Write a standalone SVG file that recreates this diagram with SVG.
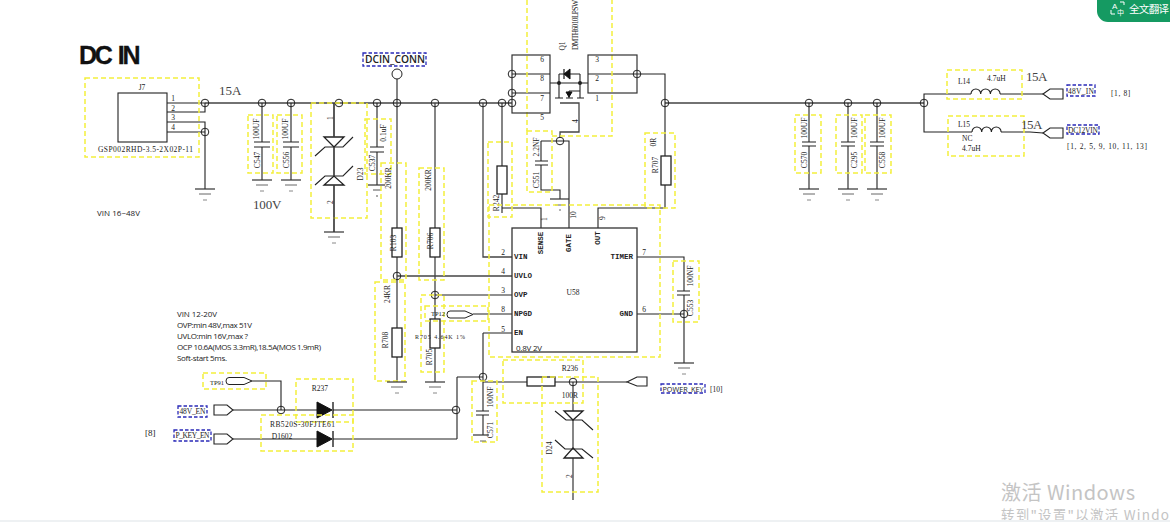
<svg xmlns="http://www.w3.org/2000/svg" width="1170" height="522" viewBox="0 0 1170 522">
<style>
text{font-family:"Liberation Serif",serif;fill:#222;dominant-baseline:central;font-size:7.500px}
.m{text-anchor:middle}
.e{text-anchor:end}
.b{font-family:"Liberation Mono",monospace;font-size:7.500px;font-weight:bold}
.s{font-size:13px;fill:#444;letter-spacing:.6px}
.n{font-family:"Open Sans",sans-serif;font-size:8px;fill:#222}
.w{fill:none;stroke:#222;stroke-width:1.1}
.g{fill:none;stroke:#444;stroke-width:1.3}
.j{fill:none;stroke:#222;stroke-width:1}
.y{fill:none;stroke:#f4ef3c;stroke-width:1.5;stroke-dasharray:5 3}
.u{fill:none;stroke:#2a2ab8;stroke-width:1.3;stroke-dasharray:3.5 2}
.r{fill:#fff;stroke:#222;stroke-width:1.3}
.k{fill:#111;stroke:#111}
.l{font-family:"Open Sans",sans-serif;font-size:8px}
</style>
<defs>
<g id="gnd"><path d="M-10 0H10" stroke="#333" stroke-width="1.2"/><path d="M-6 5H6" stroke="#666" stroke-width="1"/><path d="M-2 11H2" stroke="#888" stroke-width="1"/></g>
<circle id="jn" r="3.8" class="j"/>
<path id="con" d="M0 0L7 -5H20V5H7Z" fill="#fff" stroke="#222" stroke-width="1.1"/>
<path id="conr" d="M0 -5H13L19 0L13 5H0Z" fill="#fff" stroke="#222" stroke-width="1.1"/>
<path id="tp" d="M3 -3.5H18L26 0L18 3.5H3A3 3.5 0 0 1 3 -3.5Z" fill="#fff" stroke="#222" stroke-width="1"/>
</defs>

<g id="connectors">
<path class="g" d="M205 103H512M665 103H924"/>
<path class="w" d="M167 103H205M167 112H205V103M167 122H205V189M167 132H205"/>
<path class="w" d="M262 103V142M262 147V180M291 103V142M291 147V180M334 103V232M377 103V147M377 152V185"/>
<path class="g" d="M397 79V382M435 103V382M483 103V257H512"/>
<path class="w" d="M502 103V213M502 208H541V228"/>
<path class="w" d="M512 74H550M512 93H550M550 83H588M588 74H665V156M665 185V208H598V228"/>
<path class="w" d="M559 74H564M570 74H580M559 74V98M580 74V98M569 91V98M569 91H580"/>
<path class="g" d="M560 103H579V132H560V138"/>
<path class="w" d="M541 141H569V228M541 141V161M541 165V190H560V199"/>
<path class="g" d="M397 276H512"/>
<path class="w" d="M435 295H512M473 314H512M483 333H512M483 333V411M483 415V435"/>
<path class="w" d="M637 257H684V291M684 295V363M637 314H684"/>
<path class="w" d="M483 382H627M457 377H483M457 377V439M233 410H317M333 410H457M233 439H317M333 439H457M252 381H281V410"/>
<path class="w" d="M573 382V500"/>
<path class="w" d="M809 103V142M809 146V189M848 103V142M848 146V189M877 103V142M877 146V189"/>
<path class="w" d="M924 103V94H971M1000 94H1043M924 103V132H972M1001 132H1030L1043 133"/>
<use href="#jn" x="205" y="103"/><use href="#jn" x="205" y="132"/><use href="#jn" x="262" y="103"/><use href="#jn" x="291" y="103"/><use href="#jn" x="339" y="103"/><use href="#jn" x="377" y="103"/><use href="#jn" x="397" y="103"/><use href="#jn" x="435" y="103"/><use href="#jn" x="483" y="103"/><use href="#jn" x="502" y="103"/><use href="#jn" x="512" y="103"/><use href="#jn" x="512" y="74"/><use href="#jn" x="512" y="93"/><use href="#jn" x="637" y="74"/><use href="#jn" x="665" y="103"/><use href="#jn" x="560" y="141"/><use href="#jn" x="397" y="276"/><use href="#jn" x="435" y="295"/><use href="#jn" x="684" y="314"/><use href="#jn" x="483" y="377"/><use href="#jn" x="573" y="382"/><use href="#jn" x="456" y="410"/><use href="#jn" x="281" y="410"/><use href="#jn" x="809" y="103"/><use href="#jn" x="848" y="103"/><use href="#jn" x="877" y="103"/><use href="#jn" x="924" y="103"/>
</g>

<text x="79" y="55" style="font-family:'Liberation Sans',sans-serif;font-weight:bold;font-size:25px;fill:#111;stroke:#111;stroke-width:.3;letter-spacing:-2.400px;word-spacing:3px">DC IN</text>
<text x="219" y="90" class="s" textLength="23">15A</text>
<text x="253" y="204" class="s" textLength="29">100V</text>
<text x="97" y="212" class="n" textLength="43">VIN 16~48V</text>
<g id="notes">
<text x="177" y="313" class="n" textLength="40">VIN 12-20V</text>
<text x="177" y="324" class="n" textLength="75">OVP:min 48V,max 51V</text>
<text x="177" y="335" class="n" textLength="71">UVLO:min 16V,max ?</text>
<text x="177" y="346" class="n" textLength="144">OCP 10.6A(MOS 3.3mR),18.5A(MOS 1.9mR)</text>
<text x="177" y="357" class="n" textLength="50">Soft-start 5ms.</text>
</g>

<g id="J7">
<rect class="y" x="85" y="78" width="114" height="79"/>
<rect x="118" y="93" width="49" height="49" fill="none" stroke="#222" stroke-width="1.1"/>
<text x="142" y="87" class="m">J7</text>
<text x="98" y="149" textLength="95">GSP002RHD-3.5-2X02P-11</text>
<text x="173" y="98" class="m">1</text><text x="173" y="108" class="m">2</text><text x="173" y="117" class="m">3</text><text x="173" y="127" class="m">4</text>
<use href="#gnd" x="205" y="189"/>
</g>

<g id="C547">
<rect class="y" x="248" y="115" width="25" height="58"/>
<path class="w" d="M254 142H270M254 147H270"/>
<use href="#gnd" x="262" y="180"/>
<text transform="translate(256 129) rotate(-90)" class="m">100UF</text>
<text transform="translate(257 160) rotate(-90)" class="m">C547</text>
</g>
<g id="C556">
<rect class="y" x="277" y="115" width="25" height="58"/>
<path class="w" d="M283 142H299M283 147H299"/>
<use href="#gnd" x="291" y="180"/>
<text transform="translate(285 129) rotate(-90)" class="m">100UF</text>
<text transform="translate(286 160) rotate(-90)" class="m">C556</text>
</g>
<g id="D23">
<rect class="y" x="311" y="103" width="56" height="115"/>
<path class="r" d="M324 137H344L334 147Z"/>
<path class="w" d="M315 156L325 147H343L353 137"/>
<path class="r" d="M324 185H344L334 176Z"/>
<path class="w" d="M315 185L325 176H343L353 166"/>
<path class="g" d="M334 103V137M334 147V176M334 185V232"/>
<use href="#gnd" x="334" y="232"/>
<text transform="translate(330 118) rotate(-90)" class="m">1</text>
<text transform="translate(330 202) rotate(-90)" class="m">2</text>
<text transform="translate(360 174) rotate(-90)" class="m">D23</text>
</g>
<g id="C537">
<rect class="y" x="365" y="119" width="26" height="55"/>
<path class="w" d="M370 147H384M370 152H384"/>
<path d="M368 185H385" stroke="#333" stroke-width="1.2"/><path d="M373 190H381M376 196H378" stroke="#555"/>
<text transform="translate(383 133) rotate(-90)" class="m">0.1uF</text>
<text transform="translate(372 163) rotate(-90)" class="m">C537</text>
</g>
<g id="DCIN_CONN">
<rect class="u" x="363" y="53" width="63" height="13"/>
<text x="365" y="59" class="l" style="font-size:10.500px;font-weight:600" textLength="60" lengthAdjust="spacingAndGlyphs">DCIN_CONN</text>
<circle cx="397" cy="74" r="5" class="j" fill="#fff"/>
</g>
<g id="R703">
<rect class="y" x="381" y="163" width="25" height="117"/>
<rect class="r" x="392" y="228" width="10" height="29"/>
<text transform="translate(388 178) rotate(-90)" class="m">200KR</text>
<text transform="translate(393 243) rotate(-90)" class="m">R103</text>
</g>
<g id="R706">
<rect class="y" x="419" y="168" width="25" height="112"/>
<rect class="r" x="430" y="228" width="10" height="29"/>
<text transform="translate(428 180) rotate(-90)" class="m">200KR</text>
<text transform="translate(430 241) rotate(-90)" class="m">R706</text>
</g>
<g id="R708">
<rect class="y" x="375" y="282" width="30" height="99"/>
<rect class="r" x="392" y="328" width="10" height="29"/>
<use href="#gnd" x="397" y="382"/>
<text transform="translate(387 294) rotate(-90)" class="m">24KR</text>
<text transform="translate(385 340) rotate(-90)" class="m">R708</text>
</g>
<g id="R705">
<rect class="y" x="421" y="295" width="23" height="77"/>
<rect class="r" x="430" y="319" width="10" height="29"/>
<use href="#gnd" x="435" y="382"/>
<text x="415" y="337" style="font-size:6px" textLength="50">R705 4.64K 1%</text>
<text transform="translate(429 357) rotate(-90)" class="m">R705</text>
</g>
<g id="TP12">
<rect class="y" x="425" y="306" width="63" height="15"/>
<use href="#tp" x="447" y="314.500"/>
<text x="431" y="313" style="font-size:6.500px">TP12</text>
</g>
<g id="R242">
<rect class="y" x="488" y="142" width="24" height="75"/>
<rect class="r" x="497" y="166" width="10" height="28"/>
<text transform="translate(496 203) rotate(-90)" class="m">R242</text>
</g>
<g id="Q1">
<path class="y" d="M527 0V131M552 136H612V0"/>
<rect x="512" y="55" width="38" height="58" fill="none" stroke="#333" stroke-width="1.200"/>
<rect x="588" y="55" width="49" height="38" fill="none" stroke="#333" stroke-width="1.200"/>
<path class="k" d="M564 74L570 69V79Z"/>
<path d="M564 69V79" stroke="#111" stroke-width="1.200"/>
<path class="w" d="M555 98H563M566 98H573M577 98H584"/>
<path class="k" d="M566 92H572L569 97Z"/>
<circle cx="559" cy="83" r="2" fill="#222"/><circle cx="580" cy="83" r="2" fill="#222"/>
<text x="542" y="59" class="m">6</text><text x="542" y="78" class="m">8</text><text x="542" y="98" class="m">7</text><text x="542" y="117" class="m">5</text>
<text x="597" y="59" class="m">3</text><text x="597" y="78" class="m">2</text><text x="597" y="98" class="m">1</text>
<text transform="translate(575 121) rotate(-90)" class="m">4</text>
<text transform="translate(562 46) rotate(-90)" class="m">Q1</text>
<text transform="translate(575 50) rotate(-90)" textLength="50">DMTH6010LPSW</text>
</g>
<g id="C551">
<rect class="y" x="527" y="131" width="25" height="61"/>
<path class="w" d="M535 161H548M535 165H548"/>
<path d="M550 199H569" stroke="#333" stroke-width="1.200"/><path d="M555 205H565M559 210H561" stroke="#666"/>
<text transform="translate(536 147) rotate(-90)" class="m">2.2NF</text>
<text transform="translate(536 180) rotate(-90)" class="m">C551</text>
</g>
<g id="R707">
<rect class="y" x="645" y="133" width="30" height="75"/>
<rect class="r" x="661" y="156" width="10" height="29"/>
<text transform="translate(653 142) rotate(-90)" class="m">0R</text>
<text transform="translate(655 165) rotate(-90)" class="m">R707</text>
</g>
<g id="U58">
<rect class="y" x="489" y="205" width="171" height="152"/>
<rect x="512" y="228" width="125" height="124" fill="none" stroke="#333" stroke-width="1.300"/>
<text x="514" y="257" class="b">VIN</text><text x="514" y="276" class="b">UVLO</text><text x="514" y="295" class="b">OVP</text><text x="514" y="314" class="b">NPGD</text><text x="514" y="333" class="b">EN</text>
<text x="633" y="257" class="b e">TIMER</text><text x="633" y="314" class="b e">GND</text>
<text transform="translate(541 243) rotate(-90)" class="m b">SENSE</text>
<text transform="translate(569 243) rotate(-90)" class="m b">GATE</text>
<text transform="translate(598 238) rotate(-90)" class="m b">OUT</text>
<text x="573" y="292" class="m">U58</text>
<text x="516" y="347" class="n" textLength="26">0.8V 2V</text>
<text x="503" y="252" class="m">2</text><text x="503" y="271" class="m">4</text><text x="503" y="290" class="m">3</text><text x="503" y="309" class="m">8</text><text x="503" y="329" class="m">5</text>
<text x="644" y="252" class="m">7</text><text x="644" y="309" class="m">6</text>
<text transform="translate(544 219) rotate(-90)" class="m">1</text>
<text transform="translate(573 215) rotate(-90)" class="m">10</text>
<text transform="translate(602 218) rotate(-90)" class="m">9</text>
</g>
<g id="C553">
<rect class="y" x="673" y="261" width="26" height="61"/>
<path class="w" d="M677 291H690M677 295H690"/>
<use href="#gnd" x="684" y="363"/>
<text transform="translate(690 276) rotate(-90)" class="m">100NF</text>
<text transform="translate(690 308) rotate(-90)" class="m">C553</text>
</g>
<g id="C571">
<rect class="y" x="472" y="381" width="25" height="61"/>
<path class="w" d="M476 411H489M476 415H489"/>
<path d="M473 435H489" stroke="#333" stroke-width="1.200"/><path d="M480 441H486" stroke="#666"/>
<text transform="translate(490 397) rotate(-90)" class="m">100NF</text>
<text transform="translate(490 430) rotate(-90)" class="m">C571</text>
</g>
<g id="R236">
<rect class="y" x="503" y="360" width="80" height="43"/>
<rect class="r" x="527" y="377" width="28" height="9"/>
<text x="570" y="368" class="m">R236</text>
<text x="570" y="395" class="m">100R</text>
</g>
<g id="POWER_KEY">
<path fill="#fff" stroke="#222" stroke-width="1.100" d="M627 382L637 377H647V386H637Z"/>
<rect class="u" x="661" y="384" width="44" height="9"/>
<text x="662.500" y="388" class="l" textLength="41" lengthAdjust="spacingAndGlyphs">POWER_KEY</text>
<text x="710" y="389">[10]</text>
</g>
<g id="D24">
<rect class="y" x="542" y="377" width="56" height="115"/>
<path class="r" d="M564 411H583L573 420Z"/>
<path class="w" d="M555 411L566 420H582L593 430"/>
<path class="r" d="M564 458H583L573 448Z"/>
<path class="w" d="M555 440L565 449H582L593 458"/>
<text transform="translate(549 448) rotate(-90)" class="m">D24</text>
<text transform="translate(569 476) rotate(-90)" class="m">2</text>
</g>
<g id="TP91">
<rect class="y" x="203" y="373" width="63" height="16"/>
<use href="#tp" x="226" y="381"/>
<text x="210" y="382" style="font-size:6.500px">TP91</text>
</g>
<g id="N48V_EN">
<rect class="u" x="178" y="406" width="29" height="11"/>
<text x="179.500" y="411.500" textLength="26">48V_EN</text>
<use href="#conr" x="214" y="410"/>
</g>
<g id="P_KEY_EN">
<text x="145" y="433" style="font-size:9px">[8]</text>
<rect class="u" x="174" y="430" width="37" height="11"/>
<text x="175.500" y="435.500" textLength="34">P_KEY_EN</text>
<use href="#conr" x="214" y="439"/>
</g>
<g id="R237">
<rect class="y" x="296" y="379" width="57" height="43"/>
<path class="k" d="M317 402L332 410L317 418Z"/>
<path d="M333 402V418" stroke="#111" stroke-width="1.300"/>
<text x="320" y="388" class="m">R237</text>
<text x="270" y="424" textLength="65">RB520S-30FJTE61</text>
</g>
<g id="D1602">
<rect class="y" x="261" y="415" width="92" height="36"/>
<path class="k" d="M317 431L332 439L317 447Z"/>
<path d="M333 431V447" stroke="#111" stroke-width="1.300"/>
<text x="282" y="436" class="m">D1602</text>
</g>
<g id="C570">
<rect class="y" x="795" y="115" width="26" height="58"/>
<path class="w" d="M802 142H816M802 146H816"/>
<use href="#gnd" x="809" y="189"/>
<text transform="translate(804 128) rotate(-90)" class="m">100UF</text>
<text transform="translate(804 160) rotate(-90)" class="m">C570</text>
</g>
<g id="C295">
<rect class="y" x="836" y="115" width="26" height="58"/>
<path class="w" d="M841 142H855M841 146H855"/>
<use href="#gnd" x="848" y="189"/>
<text transform="translate(854 128) rotate(-90)" class="m">100UF</text>
<text transform="translate(854 160) rotate(-90)" class="m">C295</text>
</g>
<g id="C558">
<rect class="y" x="865" y="115" width="26" height="58"/>
<path class="w" d="M870 142H884M870 146H884"/>
<use href="#gnd" x="877" y="189"/>
<text transform="translate(882 128) rotate(-90)" class="m">100UF</text>
<text transform="translate(882 160) rotate(-90)" class="m">C558</text>
</g>
<g id="L14">
<rect class="y" x="947" y="70" width="75" height="29"/>
<path class="w" d="M971 94a4.800 5 0 0 1 9.700 0a4.800 5 0 0 1 9.700 0a4.800 5 0 0 1 9.700 0"/>
<text x="958" y="81">L14</text><text x="987" y="78">4.7uH</text>
<text x="1026" y="76" class="s" textLength="22">15A</text>
<use href="#con" x="1043" y="94"/>
<rect class="u" x="1067" y="85" width="28" height="11"/>
<text x="1068" y="91" textLength="26">48V_IN</text>
<text x="1111" y="93" style="letter-spacing:.6px">[1, 8]</text>
</g>
<g id="L15">
<rect class="y" x="948" y="116" width="76" height="40"/>
<path class="w" d="M972 132a4.800 5 0 0 1 9.700 0a4.800 5 0 0 1 9.700 0a4.800 5 0 0 1 9.700 0"/>
<text x="958" y="124">L15</text><text x="962" y="138">NC</text><text x="962" y="148">4.7uH</text>
<text x="1021" y="124" class="s" textLength="22">15A</text>
<use href="#con" x="1043" y="133"/>
<rect class="u" x="1067" y="125" width="32" height="9"/>
<text x="1068" y="130" textLength="30">DC12VIN</text>
<text x="1067" y="146" textLength="80">[1, 2, 5, 9, 10, 11, 13]</text>
</g>

<g id="badge">
<path d="M1170 0H1097V11A11 11 0 0 0 1108 22H1170Z" fill="#159a62"/>
<text x="1112" y="6" style="font-family:'Liberation Sans',sans-serif;font-size:8px;fill:#fff">A</text>
<text x="1117" y="12" style="font-family:'Noto Sans CJK SC',sans-serif;font-size:7px;fill:#fff">中</text>
<path d="M1120 2H1124V5M1111 10V14H1115" fill="none" stroke="#fff"/>
<text x="1129" y="8" style="font-family:'Noto Sans CJK SC',sans-serif;font-size:10.500px;fill:#fff" textLength="40">全文翻译</text>
</g>
<g id="watermark">
<text x="1001" y="491" style="font-family:'Noto Sans CJK SC',sans-serif;font-size:20px;fill:#c4c4c4" textLength="134">激活 Windows</text>
<text x="1001" y="514" style="font-family:'Noto Sans CJK SC',sans-serif;font-size:13.500px;fill:#c4c4c4" textLength="168">转到"设置"以激活 Windo</text>
<rect x="0" y="520" width="1170" height="2" fill="#eef1f3"/>
</g>
</svg>
